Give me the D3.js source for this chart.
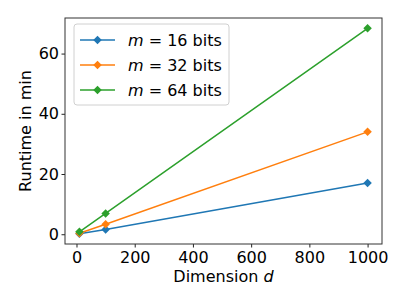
<!DOCTYPE html>
<html>
<head>
<meta charset="utf-8">
<script src="https://cdn.jsdelivr.net/npm/d3@7"></script>
<style>
  html,body{margin:0;padding:0;background:#fff;}
  svg{display:block;font-family:"DejaVu Sans",sans-serif;}
</style>
</head>
<body>
<div id="chart"></div>
<script>
// data
const dims = [10, 100, 1000];
const series = ['m = 16 bits', 'm = 32 bits', 'm = 64 bits'];
const bitLabels = ['16', '32', '64'];
const runtime16 = [0.17, 1.6, 17.0];
const runtime32 = [0.35, 3.3, 34.0];
const runtime64 = [0.8, 6.9, 68.4];
const xTicks = [0, 200, 400, 600, 800, 1000];
const yTicks = [0, 20, 40, 60];
const colors = ['#1f77b4', '#ff7f0e', '#2ca02c'];

const W = 407, H = 305;
const m = {left: 65, right: 25, top: 18, bottom: 61};
const iw = W - m.left - m.right, ih = H - m.top - m.bottom;

const svg = d3.select('#chart').append('svg').attr('width', W).attr('height', H);
const g = svg.append('g').attr('transform', `translate(${m.left},${m.top})`);

// matplotlib-like 5% margins
const x = d3.scaleLinear().domain([10 - 49.5, 1000 + 49.5]).range([0, iw]);
const yMax = d3.max(runtime64), yMin = d3.min(runtime16);
const pad = (yMax - yMin) * 0.05;
const y = d3.scaleLinear().domain([yMin - pad, yMax + pad]).range([ih, 0]);

const xAxis = g.append('g').attr('transform', `translate(0,${ih})`)
  .call(d3.axisBottom(x).tickValues(xTicks).tickFormat(d3.format('d')).tickSize(3.5).tickPadding(4));
const yAxis = g.append('g')
  .call(d3.axisLeft(y).tickValues(yTicks).tickFormat(d3.format('d')).tickSize(3.5).tickPadding(2.5));
[xAxis, yAxis].forEach(a => {
  a.select('.domain').remove();
  a.selectAll('text').attr('font-size', 16).attr('fill', '#000').attr('font-family', '"DejaVu Sans",sans-serif');
  a.selectAll('line').attr('stroke', '#222');
});

// frame
g.append('rect').attr('width', iw).attr('height', ih)
  .attr('fill', 'none').attr('stroke', '#333').attr('stroke-width', 1);

const line = d3.line().x((d, i) => x(dims[i])).y(d => y(d));
const diamond = d3.symbol().type(d3.symbolDiamond2).size(46);

[runtime16, runtime32, runtime64].forEach((vals, k) => {
  g.append('path').datum(vals).attr('d', line)
    .attr('fill', 'none').attr('stroke', colors[k]).attr('stroke-width', 1.5);
  g.selectAll(null).data(vals).join('path')
    .attr('d', diamond)
    .attr('transform', (d, i) => `translate(${x(dims[i])},${y(d)})`)
    .attr('fill', colors[k]);
});

// axis labels
const xl = svg.append('text').attr('x', m.left + iw / 2).attr('y', 282)
  .attr('text-anchor', 'middle').attr('font-size', 16);
xl.append('tspan').text('Dimension ');
xl.append('tspan').attr('font-style', 'italic').text('d');

svg.append('text')
  .attr('transform', `translate(30.5,${m.top + ih / 2}) rotate(-90)`)
  .attr('text-anchor', 'middle').attr('font-size', 16).text('Runtime in min');

// legend
const lg = g.append('g').attr('transform', 'translate(9,6)');
lg.append('rect').attr('width', 155).attr('height', 81).attr('rx', 3)
  .attr('fill', '#fff').attr('fill-opacity', 0.8).attr('stroke', '#d0d0d0');
series.forEach((s, k) => {
  const yy = 16 + k * 25;
  lg.append('line').attr('x1', 6).attr('x2', 41).attr('y1', yy).attr('y2', yy)
    .attr('stroke', colors[k]).attr('stroke-width', 1.5);
  lg.append('path').attr('d', diamond).attr('transform', `translate(23.5,${yy})`).attr('fill', colors[k]);
  const t = lg.append('text').attr('x', 54).attr('y', yy + 6).attr('font-size', 16);
  t.append('tspan').attr('font-style', 'italic').text('m');
  t.append('tspan').text(' = ' + bitLabels[k] + ' bits');
});
</script>
</body>
</html>
